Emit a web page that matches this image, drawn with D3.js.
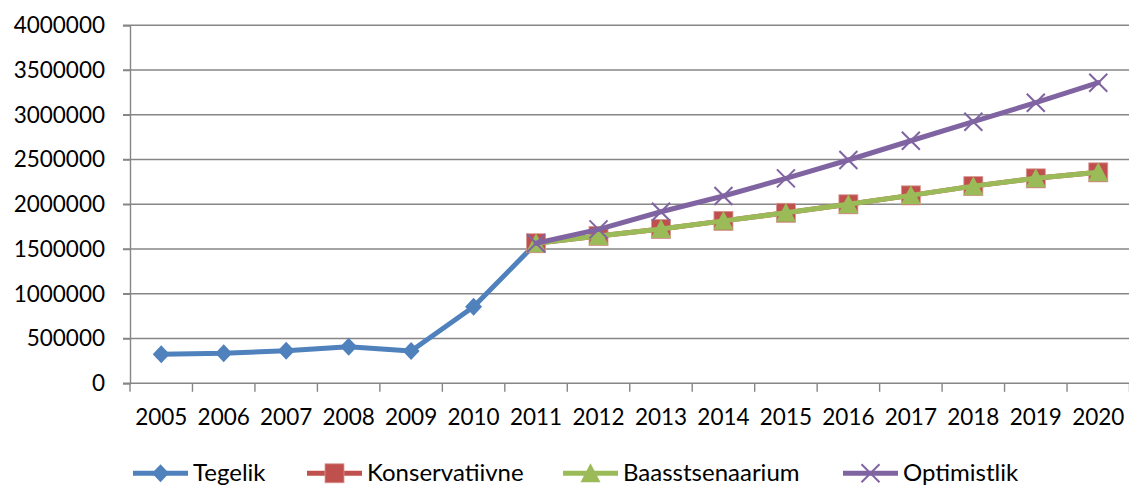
<!DOCTYPE html>
<html>
<head>
<meta charset="utf-8">
<script src="https://cdn.jsdelivr.net/npm/d3@7"></script>
<style>
  html, body { margin: 0; padding: 0; background: #fff; }
  svg { display: block; }
  text { font-family: Lato, "Open Sans", sans-serif; fill: #000; }
</style>
</head>
<body>
<svg id="chart" width="1129" height="486"></svg>
<script>
const years = ["2005","2006","2007","2008","2009","2010","2011","2012","2013","2014","2015","2016","2017","2018","2019","2020"];
const tegelik        = [324000, 335000, 364000, 409000, 361000, 856000, 1565000, null, null, null, null, null, null, null, null, null];
const konservatiivne = [null, null, null, null, null, null, 1565000, 1646000, 1724000, 1815000, 1905000, 2000000, 2100000, 2203000, 2290000, 2357000];
const baasstsenaarium= [null, null, null, null, null, null, 1565000, 1646000, 1724000, 1815000, 1905000, 2000000, 2100000, 2203000, 2290000, 2357000];
const optimistlik    = [null, null, null, null, null, null, 1565000, 1720000, 1917000, 2093000, 2290000, 2495000, 2710000, 2923000, 3135000, 3359000];
const yTicks = [0, 500000, 1000000, 1500000, 2000000, 2500000, 3000000, 3500000, 4000000];
const seriesNames = ["Tegelik", "Konservatiivne", "Baasstsenaarium", "Optimistlik"];

const series = [
  { name: seriesNames[0], values: tegelik, color: "#4F81BD", marker: "diamond" },
  { name: seriesNames[1], values: konservatiivne, color: "#C0504D", marker: "square" },
  { name: seriesNames[2], values: baasstsenaarium, color: "#9BBB59", marker: "triangle" },
  { name: seriesNames[3], values: optimistlik, color: "#8064A2", marker: "x" }
];

const svg = d3.select("#chart");
const plotLeft = 130, plotRight = 1129.5, plotTop = 25.3, plotBottom = 383.3;
const x = d3.scaleBand().domain(years).range([plotLeft, plotRight]).paddingInner(0).paddingOuter(0);
const y = d3.scaleLinear().domain([0, 4000000]).range([plotBottom, plotTop]);
const gridColor = "#868686";
const fontSize = 22.5;
const legendFontSize = 24;

// gridlines
svg.append("g").selectAll("line").data(yTicks.filter(d => d > 0)).join("line")
  .attr("x1", plotLeft - 7).attr("x2", plotRight)
  .attr("y1", d => y(d)).attr("y2", d => y(d))
  .attr("stroke", gridColor).attr("stroke-width", 1.4);

// y axis
const yAxis = svg.append("g").attr("transform", `translate(${plotLeft},0)`)
  .call(d3.axisLeft(y).tickValues(yTicks).tickFormat(d3.format("d")).tickSize(7).tickPadding(18));
yAxis.select(".domain").attr("stroke", gridColor).attr("stroke-width", 1.4);
yAxis.selectAll(".tick line").attr("stroke", gridColor).attr("stroke-width", 1.4);
yAxis.selectAll(".tick text").attr("font-size", fontSize).attr("font-family", "Lato").attr("fill", "#000");

// x axis
const xAxisG = svg.append("g").attr("transform", `translate(0,${plotBottom})`);
xAxisG.append("line").attr("x1", plotLeft - 7).attr("x2", plotRight).attr("y1", 0).attr("y2", 0)
  .attr("stroke", gridColor).attr("stroke-width", 1.4);
const bounds = years.map(d => x(d)).concat([x(years[years.length-1]) + x.bandwidth()]);
xAxisG.selectAll("line.tk").data(bounds).join("line").attr("class", "tk")
  .attr("x1", d => d).attr("x2", d => d).attr("y1", 0).attr("y2", 8.5)
  .attr("stroke", gridColor).attr("stroke-width", 1.4);
xAxisG.selectAll("text").data(years).join("text")
  .attr("x", d => x(d) + x.bandwidth() / 2).attr("y", 42)
  .attr("text-anchor", "middle").attr("font-size", fontSize).text(d => d);

// marker drawing
function drawMarker(g, type, color, cx, cy) {
  if (type === "diamond") {
    g.append("path").attr("d", `M${cx},${cy-9} L${cx+8.5},${cy} L${cx},${cy+9} L${cx-8.5},${cy} Z`)
      .attr("fill", color);
  } else if (type === "square") {
    g.append("rect").attr("x", cx - 9.5).attr("y", cy - 9.5).attr("width", 19).attr("height", 19)
      .attr("fill", color).attr("stroke", "#D99795").attr("stroke-width", 0.8);
  } else if (type === "triangle") {
    g.append("path").attr("d", `M${cx},${cy-10} L${cx+10},${cy+9} L${cx-10},${cy+9} Z`)
      .attr("fill", color);
  } else if (type === "x") {
    g.append("path").attr("d", `M${cx-9},${cy-9} L${cx+9},${cy+9} M${cx-9},${cy+9} L${cx+9},${cy-9}`)
      .attr("stroke", color).attr("stroke-width", 2).attr("fill", "none");
  }
}

const line = d3.line()
  .defined(d => d.v !== null)
  .x(d => x(d.year) + x.bandwidth() / 2)
  .y(d => y(d.v));

series.forEach(s => {
  const pts = years.map((yr, i) => ({ year: yr, v: s.values[i] }));
  const g = svg.append("g");
  g.append("path").datum(pts).attr("d", line)
    .attr("fill", "none").attr("stroke", s.color).attr("stroke-width", 5)
    .attr("stroke-linejoin", "round").attr("stroke-linecap", "round");
  pts.filter(p => p.v !== null).forEach(p => {
    drawMarker(g, s.marker, s.color, x(p.year) + x.bandwidth() / 2, y(p.v));
  });
});

// legend
const legendX = [133, 307, 563, 843];
const legendY = 473.3;
series.forEach((s, i) => {
  const g = svg.append("g");
  const lx = legendX[i];
  g.append("line").attr("x1", lx).attr("x2", lx + 55).attr("y1", legendY).attr("y2", legendY)
    .attr("stroke", s.color).attr("stroke-width", 5);
  drawMarker(g, s.marker, s.color, lx + 27.5, legendY);
  g.append("text").attr("x", lx + 60).attr("y", legendY + 8)
    .attr("font-size", legendFontSize).text(s.name);
});
</script>
</body>
</html>
